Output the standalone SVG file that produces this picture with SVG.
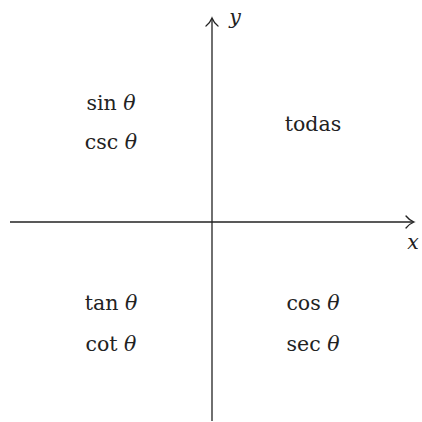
<svg xmlns="http://www.w3.org/2000/svg" width="422" height="422" viewBox="0 0 422 422">
<style>
.t{font-family:"DejaVu Serif","Liberation Serif",serif;font-size:20.5px;fill:#222;text-anchor:middle}
.i{font-style:italic}
.ax{stroke:#222;stroke-width:1.3;fill:none}
.ah{stroke:#222;stroke-width:1.3;fill:none;stroke-linecap:round}
</style>
<g id="connectors">
<line class="ax" x1="10" y1="222" x2="413" y2="222"/>
<path class="ah" d="M406,216 Q409,220 414,222 Q409,224 406,228"/>
<line class="ax" x1="212" y1="421" x2="212" y2="19"/>
<path class="ah" d="M206,26 Q210,23 212,18 Q214,23 218,26"/>
</g>
<g id="label-y"><text class="t i" x="235" y="24">y</text></g>
<g id="label-x"><text class="t i" x="413" y="249">x</text></g>
<g id="q2">
<text class="t" x="111" y="110">sin <tspan class="i">θ</tspan></text>
<text class="t" x="111" y="149">csc <tspan class="i">θ</tspan></text>
</g>
<g id="q1"><text class="t" x="313" y="131">todas</text></g>
<g id="q3">
<text class="t" x="111" y="310">tan <tspan class="i">θ</tspan></text>
<text class="t" x="111" y="351">cot <tspan class="i">θ</tspan></text>
</g>
<g id="q4">
<text class="t" x="313" y="310">cos <tspan class="i">θ</tspan></text>
<text class="t" x="313" y="351">sec <tspan class="i">θ</tspan></text>
</g>
</svg>
